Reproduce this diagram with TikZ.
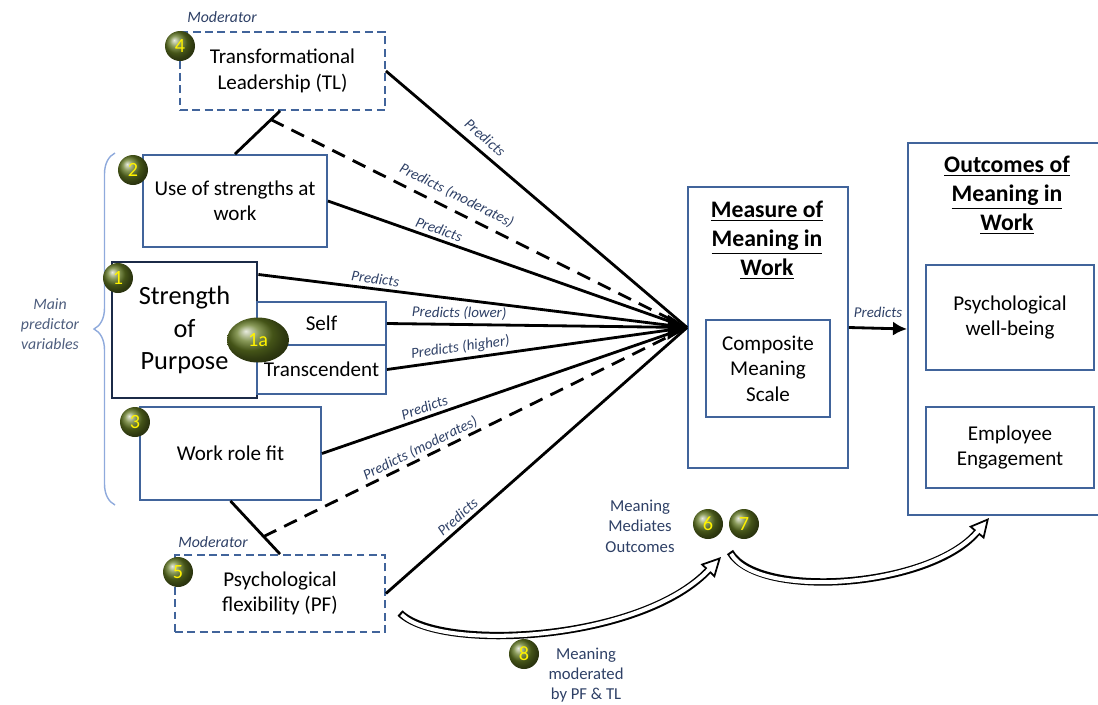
\documentclass[tikz,border=0pt]{standalone}
\usepackage{fontspec}
\setmainfont{Carlito}
\usepackage{tikz}
\usetikzlibrary{
    arrows.meta,
    shapes.geometric,
    decorations.pathreplacing,
    calc,
    positioning
}
\definecolor{boxblue}{RGB}{65,100,155}
\definecolor{sopnavy}{RGB}{27,42,71}
\definecolor{lblcol}{RGB}{46,64,102}
\definecolor{bracecol}{RGB}{143,170,220}
\definecolor{badgegreen}{RGB}{98,120,34}

\begin{document}
\begin{tikzpicture}[x=0.02cm, y=-0.02cm,
    box/.style={draw=boxblue, line width=1.1pt, align=center, inner sep=0pt, font=\fontsize{12}{14.5}\selectfont},
    modbox/.style={box, dash pattern=on 4.5pt off 2.5pt},
    title/.style={align=center, font=\bfseries\fontsize{13.5}{16.6}\selectfont},
    badge/.style={circle, ball color=badgegreen, text=yellow, minimum size=0.6cm, inner sep=0pt, font=\fontsize{11.5}{11.5}\selectfont},
    pred/.style={line width=1.6pt},
    moddash/.style={pred, dash pattern=on 8pt off 5pt},
    lbl/.style={font=\itshape\fontsize{8.5}{9}\selectfont, text=lblcol, sloped, above=1pt, inner sep=1pt},
    note/.style={align=center, text=lblcol, font=\fontsize{9.5}{11.6}\selectfont},
    hollow/.style={line width=4.2pt, -{Triangle[open, fill=white, length=11pt, width=11pt, line width=1pt]}},
    hollowin/.style={white, line width=2.3pt, shorten >=9.5pt, shorten <=1.2pt}]
\useasboundingbox (0,0) rectangle (1098,704);

% predictor boxes
\node[modbox, minimum width=4.1cm, minimum height=1.56cm] (tl) at (282.5,71) {Transformational\\Leadership (TL)};
\node[box, minimum width=3.68cm, minimum height=1.84cm] (sus) at (235,201) {Use of strengths at\\work};
\node[box, draw=sopnavy, line width=1.6pt, minimum width=2.9cm, minimum height=2.72cm,
      font=\fontsize{15}{18.5}\selectfont] (sop) at (184.5,330) {Strength\\of\\Purpose};
\node[box, minimum width=2.58cm, minimum height=0.86cm] (self) at (321.5,323.5) {Self};
\node[box, minimum width=2.58cm, minimum height=0.98cm] (trans) at (321.5,369.5) {Transcendent};
\node[box, minimum width=3.62cm, minimum height=1.86cm] (wrf) at (230.5,453.5) {Work role fit};
\node[modbox, minimum width=4.2cm, minimum height=1.54cm] (pf) at (280,593.5) {Psychological\\flexibility (PF)};

\node[note, font=\itshape\fontsize{9}{10}\selectfont] (modtop) at (222,17) {Moderator};
\node[note, font=\itshape\fontsize{9}{10}\selectfont] (modbot) at (213,542) {Moderator};

% meaning and outcomes
\node[box, minimum width=3.2cm, minimum height=5.62cm] (mom) at (768,327.5) {};
\node[title] (momt) at (767,240) {\underline{Measure of}\\\underline{Meaning in}\\\underline{Work}};
\node[box, minimum width=2.48cm, minimum height=1.94cm] (cms) at (768,368.5) {Composite\\Meaning\\Scale};
\node[box, minimum width=3.84cm, minimum height=7.44cm] (oom) at (1004,329) {};
\node[title] (oomt) at (1007,195) {\underline{Outcomes of}\\\underline{Meaning in}\\\underline{Work}};
\node[box, minimum width=3.36cm, minimum height=2.1cm] (pwb) at (1010,317.5) {Psychological\\well-being};
\node[box, minimum width=3.36cm, minimum height=1.62cm] (ee) at (1010,447.5) {Employee\\Engagement};

% brace
\draw[bracecol, line width=0.8pt, decorate, decoration={brace, amplitude=0.42cm}] (115,505) -- (115,153);
\node[note, text=lblcol!85, font=\itshape\fontsize{9}{11.3}\selectfont] (mainpv) at (50,324) {Main\\predictor\\variables};

% connectors
\coordinate (tip) at (mom.west);
\coordinate (tlfoot) at ([xshift=-0.05cm]tl.south);
\coordinate (tlbr) at ($(tlfoot)!0.2!(sus.north)$);
\coordinate (pfbr) at ($(wrf.south)!0.67!(pf.north)$);
\coordinate (sopout) at ($(sop.north east)!0.1!(sop.south east)$);

\draw[pred] (tlfoot) -- (sus.north);
\draw[pred] (wrf.south) -- (pf.north);

\draw
(tl.east) edge[pred] node[lbl, above=3pt, pos=0.3]{Predicts} (tip)
(tlbr) edge[moddash] node[lbl, above=3pt, pos=0.43]{Predicts (moderates)} (tip)
(sus.east) edge[pred] node[lbl, pos=0.3]{Predicts} (tip)
(sopout) edge[pred] node[lbl, pos=0.27]{Predicts} (tip)
(trans.east) edge[pred] node[lbl, pos=0.25]{Predicts (higher)} (tip)
(wrf.east) edge[pred] node[lbl, pos=0.29]{Predicts} (tip)
(pfbr) edge[moddash] node[lbl, above=0pt, pos=0.38]{Predicts (moderates)} (tip)
(pf.east) edge[pred] node[lbl, pos=0.26]{Predicts} (tip);
\draw[pred, -{Triangle[length=11pt, width=14pt]}] (self.east) -- node[lbl, pos=0.24]{Predicts (lower)} (tip);

\draw[pred, -{Latex[length=8pt, width=8pt]}] (mom.east) -- node[lbl, sloped=false, above=4pt]{Predicts} (oom.west);

% hollow curved arrows
\coordinate (h1s) at (400,613);
\coordinate (h1e) at (721,557);
\coordinate (h2s) at (730,552);
\coordinate (h2e) at (989,518);
\draw[hollow] (h1s) .. controls (440,652) and (640,642) .. (h1e);
\draw[hollowin] (h1s) .. controls (440,652) and (640,642) .. (h1e);
\draw[hollow] (h2s) .. controls (758,600) and (930,588) .. (h2e);
\draw[hollowin] (h2s) .. controls (758,600) and (930,588) .. (h2e);

\node[note] (mmo) at (640,526) {Meaning\\Mediates\\Outcomes};
\node[note] (mmod) at (586,675) {Meaning\\moderated\\by PF \& TL};

% badges
\node[badge] (b4) at (180,46) {4};
\node[badge] (b2) at (133,170) {2};
\node[badge] (b1) at (118,278) {1};
\node[badge, ellipse, minimum width=1.24cm, minimum height=0.9cm] (b1a) at (258,340) {1a};
\node[badge] (b3) at (135,422) {3};
\node[badge] (b5) at (178,572) {5};
\node[badge] (b6) at (708,524) {6};
\node[badge] (b7) at (744,524) {7};
\node[badge] (b8) at (524,654) {8};
\end{tikzpicture}
\end{document}
